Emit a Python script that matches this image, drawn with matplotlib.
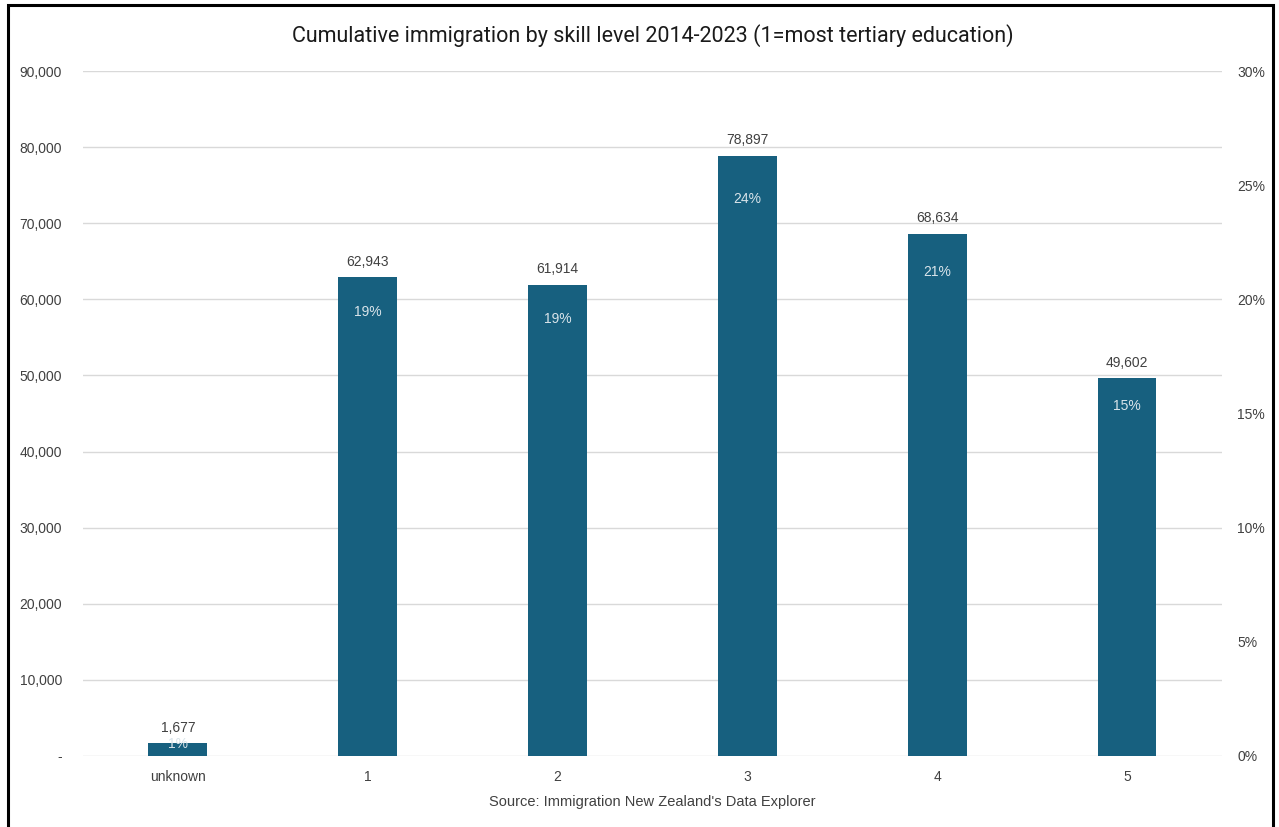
import matplotlib.pyplot as plt
from matplotlib.patches import Rectangle
from matplotlib.ticker import FuncFormatter

# skill level categories and cumulative arrivals
categories = ['unknown', '1', '2', '3', '4', '5']
counts = [1677, 62943, 61914, 78897, 68634, 49602]
total = sum(counts)
shares = [c / total for c in counts]

bar_color = '#17607f'
text_color = '#404040'
plt.rcParams['font.family'] = ['Liberation Sans', 'DejaVu Sans']

fig = plt.figure(figsize=(12.79, 8.27), dpi=100)
ax = fig.add_axes([0.0649, 0.0859, 0.8905, 0.8282])

x = list(range(len(categories)))
ax.bar(x, counts, width=0.31, color=bar_color, zorder=3)

ax.set_xlim(-0.5, len(categories) - 0.5)
ax.set_ylim(0, 90000)
ax.set_yticks(range(0, 90001, 10000))
ax.yaxis.set_major_formatter(FuncFormatter(lambda v, p: '-' if v == 0 else f'{int(v):,}'))
ax.set_xticks(x)
ax.set_xticklabels(categories)
ax.tick_params(axis='both', length=0, labelsize=10, colors=text_color)
ax.tick_params(axis='y', pad=15)
ax.tick_params(axis='x', pad=10)
ax.grid(axis='y', color='#d9d9d9', linewidth=1, zorder=0)
for s in ax.spines.values():
    s.set_visible(False)

# value labels above bars
for xi, c in zip(x, counts):
    ax.annotate(f'{c:,}', (xi, c), xytext=(0, 6), textcoords='offset points',
                ha='center', va='bottom', fontsize=10, color=text_color)

# secondary axis with shares
ax2 = ax.twinx()
ax2.set_ylim(0, 0.30)
ax2.set_yticks([0, 0.05, 0.10, 0.15, 0.20, 0.25, 0.30])
ax2.yaxis.set_major_formatter(FuncFormatter(lambda v, p: f'{v:.0%}'))
ax2.tick_params(axis='y', length=0, labelsize=10, colors=text_color, pad=11)
for s in ax2.spines.values():
    s.set_visible(False)
for xi, sh in zip(x, shares):
    ax2.text(xi, sh, f'{sh:.0%}', ha='center', va='center', fontsize=10, color='#d9e4ea')

ax.set_title('Cumulative immigration by skill level 2014-2023 (1=most tertiary education)',
             fontsize=15.5, color='#1a1a1a', pad=21, family=['Roboto', 'DejaVu Sans'])
ax.set_xlabel("Source: Immigration New Zealand's Data Explorer", fontsize=10.5,
              color=text_color, labelpad=8)

# chart frame
fig.patches.append(Rectangle((0.0063, -0.02), 0.989, 1.014, transform=fig.transFigure,
                             fill=False, edgecolor='black', linewidth=2.2, clip_on=False))

fig.savefig('out.png', dpi=100)
